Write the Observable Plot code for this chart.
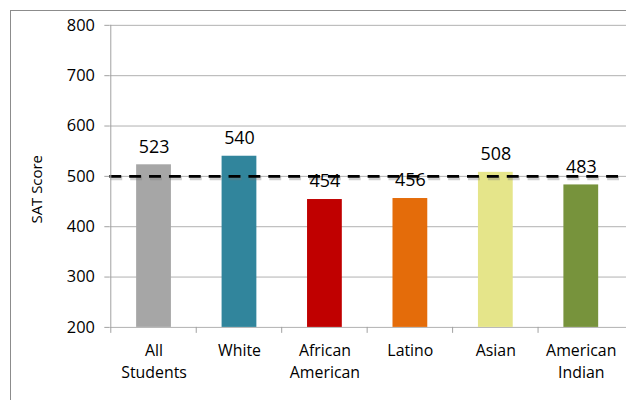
<!DOCTYPE html>
<html>
<head>
<meta charset="utf-8">
<script src="https://cdn.jsdelivr.net/npm/d3@7"></script>
<script src="https://cdn.jsdelivr.net/npm/@observablehq/plot@0.6"></script>
<style>
  html, body { margin: 0; padding: 0; background: #fff; overflow: hidden; }
  #wrap { position: relative; width: 626px; height: 400px; overflow: hidden; font-family: "Open Sans", sans-serif; }
  #frame { position: absolute; left: 10px; top: 10px; width: 700px; height: 500px;
           border-left: 1.5px solid #8c8c8c; border-top: 1.5px solid #8c8c8c; }
  #chart { position: absolute; left: 0; top: 0; }
  [aria-label="y-axis tick"] path { stroke: #a0a0a0; }
  [aria-label="y-axis label"] text { font-size: 15px !important; }
</style>
</head>
<body>
<div id="wrap"><div id="frame"></div><div id="chart"></div></div>
<script>
const categories = ["All Students", "White", "African American", "Latino", "Asian", "American Indian"];
const scores = [523, 540, 454, 456, 508, 483];
const colors = ["#a6a6a6", "#31859c", "#c00000", "#e46c0a", "#e5e58a", "#77933c"];
const yTicks = [200, 300, 400, 500, 600, 700, 800];
const benchmark = [500];
const yMin = 200, yMax = 800;

const data = categories.map((c, i) => ({category: c, score: scores[i], color: colors[i]}));

const chart = Plot.plot({
  width: 630,
  height: 400,
  marginLeft: 110,
  marginRight: 0,
  marginTop: 25,
  marginBottom: 71,
  style: {fontFamily: "'Open Sans', sans-serif", color: "#000", background: "transparent"},
  x: {domain: categories, paddingInner: 0.59, paddingOuter: 0.295, label: null},
  y: {domain: [yMin, yMax], label: null},
  marks: [
    Plot.gridY(yTicks, {stroke: "#b0b0b0", strokeOpacity: 1, strokeWidth: 1}),
    Plot.barY(data, {x: "category", y1: yMin, y2: "score", fill: "color"}),
    Plot.ruleY(benchmark, {stroke: "#777", strokeOpacity: 0.35, strokeWidth: 4, strokeDasharray: "12,8", dy: 2, dx: 1}),
    Plot.ruleY(benchmark, {stroke: "#000", strokeWidth: 3, strokeDasharray: "12,8"}),
    Plot.text(data, {x: "category", y: "score", text: d => String(d.score), dy: -18, fontSize: 18, fill: "#000"}),
    Plot.axisY({ticks: yTicks, tickSize: 5, tickPadding: 10, fontSize: 16.5, label: "SAT Score", labelAnchor: "center", labelOffset: 81, labelArrow: false}),
    Plot.axisX({tickSize: 0, tickPadding: 13, fontSize: 16, lineHeight: 1.38, tickFormat: d => d.replace(" ", "\n"), label: null})
  ]
});

document.getElementById("chart").appendChild(chart);

// axis lines and category-boundary ticks, positioned through the plot's own scales
const xs = chart.scale("x"), ys = chart.scale("y");
const svg = d3.select(chart);
const yTop = ys.apply(yMax), yBot = ys.apply(yMin);
const x0 = xs.apply(categories[0]) - (xs.step - xs.bandwidth) / 2;
svg.append("line").attr("x1", x0).attr("x2", x0).attr("y1", yTop).attr("y2", yBot)
  .attr("stroke", "#a0a0a0").attr("stroke-width", 1);
categories.forEach(c => {
  const bx = xs.apply(c) - (xs.step - xs.bandwidth) / 2;
  svg.append("line").attr("x1", bx).attr("x2", bx).attr("y1", yBot).attr("y2", yBot + 6)
    .attr("stroke", "#a0a0a0").attr("stroke-width", 1);
});
svg.selectAll('[aria-label="y-axis label"] text').attr("y", 13).attr("x", -13);
</script>
</body>
</html>
